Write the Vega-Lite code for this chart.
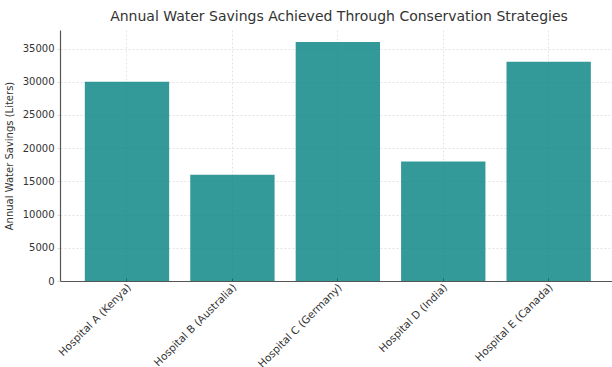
{
  "$schema": "https://vega.github.io/schema/vega-lite/v6.json",
  "autosize": "none",
  "width": 552,
  "height": 251,
  "padding": {"left": 60, "top": 30, "right": 0, "bottom": 86},
  "background": "white",
  "config": {
    "font": "DejaVu Sans",
    "view": {"stroke": null}
  },
  "title": {
    "text": "Annual Water Savings Achieved Through Conservation Strategies",
    "fontSize": 14,
    "fontWeight": "normal",
    "color": "#333333",
    "anchor": "middle",
    "dx": 3,
    "offset": 6
  },
  "data": {
    "values": [
      {"hospital": "Hospital A (Kenya)", "savings": 30000},
      {"hospital": "Hospital B (Australia)", "savings": 16000},
      {"hospital": "Hospital C (Germany)", "savings": 36000},
      {"hospital": "Hospital D (India)", "savings": 18000},
      {"hospital": "Hospital E (Canada)", "savings": 33000}
    ]
  },
  "mark": {"type": "bar", "color": "#008080", "opacity": 0.8},
  "encoding": {
    "x": {
      "field": "hospital",
      "type": "nominal",
      "sort": null,
      "scale": {"paddingInner": 0.2, "paddingOuter": 0.218, "align": 0.54},
      "axis": {
        "title": null,
        "bandPosition": 0.5,
        "labelAngle": -45,
        "labelAlign": "right",
        "labelBaseline": "top",
        "labelFontSize": 10.5,
        "labelColor": "#333333",
        "labelPadding": 4,
        "labelOffset": -1,
        "grid": true,
        "gridColor": "#dddddd",
        "gridDash": [2, 2],
        "gridWidth": 0.8,
        "domainColor": "#555555",
        "domainWidth": 1.2,
        "tickColor": "#333333",
        "tickSize": -3
      }
    },
    "y": {
      "field": "savings",
      "type": "quantitative",
      "scale": {"domain": [0, 37800], "nice": false},
      "axis": {
        "title": "Annual Water Savings (Liters)",
        "titleFontSize": 10,
        "titleFontWeight": "normal",
        "titleColor": "#333333",
        "titlePadding": 8,
        "values": [0, 5000, 10000, 15000, 20000, 25000, 30000, 35000],
        "format": "d",
        "labelFontSize": 10,
        "labelColor": "#333333",
        "labelPadding": 3,
        "grid": true,
        "gridColor": "#dddddd",
        "gridDash": [2, 2],
        "gridWidth": 0.8,
        "domainColor": "#555555",
        "domainWidth": 1.2,
        "tickColor": "#dddddd",
        "tickSize": 3
      }
    }
  }
}
